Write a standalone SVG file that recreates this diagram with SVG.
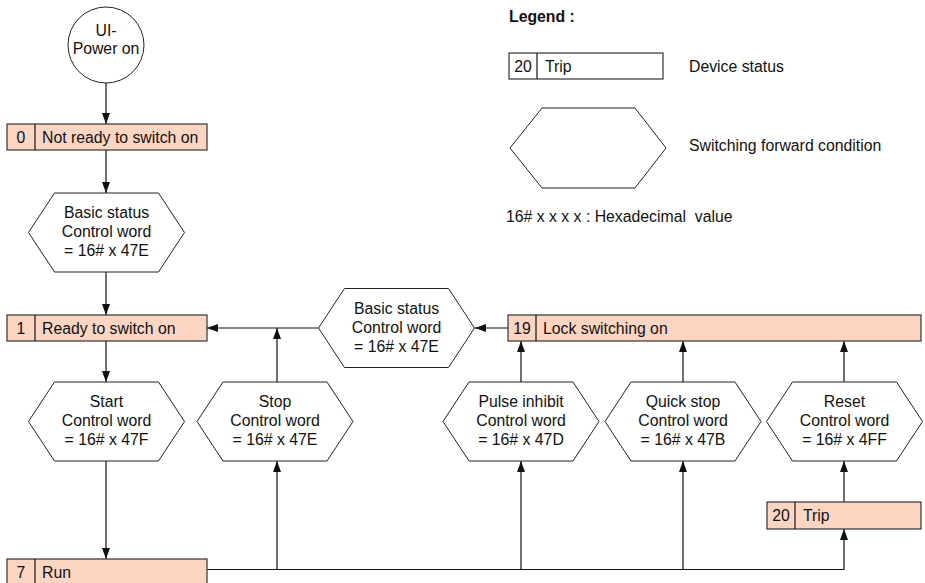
<svg xmlns="http://www.w3.org/2000/svg" xmlns:xlink="http://www.w3.org/1999/xlink" width="925" height="583" viewBox="0 0 925 583">
  <style>
    text { font-family: "Liberation Sans", Arial, sans-serif; font-size: 15.8px; fill: #111; }
    .c { text-anchor: middle; }
    .b { font-weight: bold; }
    .state { fill: #fcd5c3; stroke: #333; stroke-width: 1.2; }
    .legendbox { fill: #fff; stroke: #333; stroke-width: 1.2; }
    .hex { fill: #fff; stroke: #222; stroke-width: 1; }
    .wire { fill: none; stroke: #111; stroke-width: 1.2; marker-end: url(#arrow); }
    .plain { fill: none; stroke: #111; stroke-width: 1.2; }
  </style>
  <defs>
    <marker id="arrow" markerWidth="11" markerHeight="8" refX="11" refY="4" orient="auto" markerUnits="userSpaceOnUse">
      <path d="M0,0 L11,4 L0,8 Z" fill="#111"/>
    </marker>
    <!-- condition hexagon centred on (0,0) -->
    <polygon id="hexShape" points="-78,0 -52,-39.5 52,-39.5 78,0 52,39.5 -52,39.5"/>
  </defs>

  <rect width="925" height="583" fill="#fff"/>

  <!-- connectors -->
  <g id="connectors">
    <line class="wire" x1="106" y1="83" x2="106" y2="124"/>
    <line class="wire" x1="106" y1="150" x2="106" y2="193"/>
    <line class="wire" x1="106" y1="272" x2="106" y2="315"/>
    <line class="wire" x1="106" y1="341" x2="106" y2="382"/>
    <line class="wire" x1="106" y1="461" x2="106" y2="559"/>
    <polyline class="wire" points="207,569.5 844,569.5 844,529"/>
    <line class="wire" x1="277" y1="569.5" x2="277" y2="461"/>
    <line class="wire" x1="277" y1="382" x2="277" y2="328"/>
    <line class="wire" x1="318" y1="328" x2="207" y2="328"/>
    <line class="wire" x1="508" y1="328" x2="475" y2="328"/>
    <line class="wire" x1="521" y1="569.5" x2="521" y2="461"/>
    <line class="wire" x1="521" y1="382" x2="521" y2="341"/>
    <line class="wire" x1="683" y1="569.5" x2="683" y2="461"/>
    <line class="wire" x1="683" y1="382" x2="683" y2="341"/>
    <line class="wire" x1="844" y1="502" x2="844" y2="461"/>
    <line class="wire" x1="844" y1="382" x2="844" y2="341"/>
  </g>

  <!-- start node -->
  <g id="power-on">
    <circle cx="106" cy="45" r="38" fill="#fff" stroke="#222" stroke-width="1"/>
    <text class="c" x="106" y="36">UI-</text>
    <text class="c" x="106" y="54">Power on</text>
  </g>

  <!-- device states -->
  <g id="state-0">
    <rect class="state" x="7" y="124" width="200" height="26"/>
    <line class="plain" x1="35" y1="124" x2="35" y2="150"/>
    <text class="c" x="21" y="143">0</text>
    <text x="42" y="143">Not ready to switch on</text>
  </g>
  <g id="state-1">
    <rect class="state" x="7" y="315" width="200" height="26"/>
    <line class="plain" x1="35" y1="315" x2="35" y2="341"/>
    <text class="c" x="21" y="334">1</text>
    <text x="42" y="334">Ready to switch on</text>
  </g>
  <g id="state-7">
    <rect class="state" x="7" y="559" width="200" height="26"/>
    <line class="plain" x1="35" y1="559" x2="35" y2="585"/>
    <text class="c" x="21" y="578">7</text>
    <text x="42" y="578">Run</text>
  </g>
  <g id="state-19">
    <rect class="state" x="508" y="315" width="413" height="26"/>
    <line class="plain" x1="536" y1="315" x2="536" y2="341"/>
    <text class="c" x="522" y="334">19</text>
    <text x="543" y="334">Lock switching on</text>
  </g>
  <g id="state-20">
    <rect class="state" x="767" y="502" width="154" height="27"/>
    <line class="plain" x1="795" y1="502" x2="795" y2="529"/>
    <text class="c" x="781" y="521">20</text>
    <text x="803" y="521">Trip</text>
  </g>

  <!-- switching conditions -->
  <g id="cond-basic-1">
    <use href="#hexShape" class="hex" transform="translate(106.5,232.5)"/>
    <text class="c" x="106.5" y="218">Basic status</text>
    <text class="c" x="106.5" y="237">Control word</text>
    <text class="c" x="106.5" y="256">= 16# x 47E</text>
  </g>
  <g id="cond-basic-2">
    <use href="#hexShape" class="hex" transform="translate(396.5,328)"/>
    <text class="c" x="396.5" y="313.5">Basic status</text>
    <text class="c" x="396.5" y="332.5">Control word</text>
    <text class="c" x="396.5" y="351.5">= 16# x 47E</text>
  </g>
  <g id="cond-start">
    <use href="#hexShape" class="hex" transform="translate(106.5,421.5)"/>
    <text class="c" x="106.5" y="407">Start</text>
    <text class="c" x="106.5" y="426">Control word</text>
    <text class="c" x="106.5" y="445">= 16# x 47F</text>
  </g>
  <g id="cond-stop">
    <use href="#hexShape" class="hex" transform="translate(275,421.5)"/>
    <text class="c" x="275" y="407">Stop</text>
    <text class="c" x="275" y="426">Control word</text>
    <text class="c" x="275" y="445">= 16# x 47E</text>
  </g>
  <g id="cond-pulse">
    <use href="#hexShape" class="hex" transform="translate(521,421.5)"/>
    <text class="c" x="521" y="407">Pulse inhibit</text>
    <text class="c" x="521" y="426">Control word</text>
    <text class="c" x="521" y="445">= 16# x 47D</text>
  </g>
  <g id="cond-quickstop">
    <use href="#hexShape" class="hex" transform="translate(683,421.5)"/>
    <text class="c" x="683" y="407">Quick stop</text>
    <text class="c" x="683" y="426">Control word</text>
    <text class="c" x="683" y="445">= 16# x 47B</text>
  </g>
  <g id="cond-reset">
    <use href="#hexShape" class="hex" transform="translate(844.5,421.5)"/>
    <text class="c" x="844.5" y="407">Reset</text>
    <text class="c" x="844.5" y="426">Control word</text>
    <text class="c" x="844.5" y="445">= 16# x 4FF</text>
  </g>

  <!-- legend -->
  <g id="legend">
    <text class="b" x="509" y="22">Legend :</text>
    <rect class="legendbox" x="509" y="53" width="154" height="26"/>
    <line class="plain" x1="537" y1="53" x2="537" y2="79"/>
    <text class="c" x="523" y="72">20</text>
    <text x="545" y="72">Trip</text>
    <text x="689" y="72">Device status</text>
    <polygon class="hex" points="510,148 542,108 635,108 666,148 635,188 542,188"/>
    <text x="689" y="151">Switching forward condition</text>
    <text x="506" y="222" xml:space="preserve">16# x x x x : Hexadecimal  value</text>
  </g>
</svg>
